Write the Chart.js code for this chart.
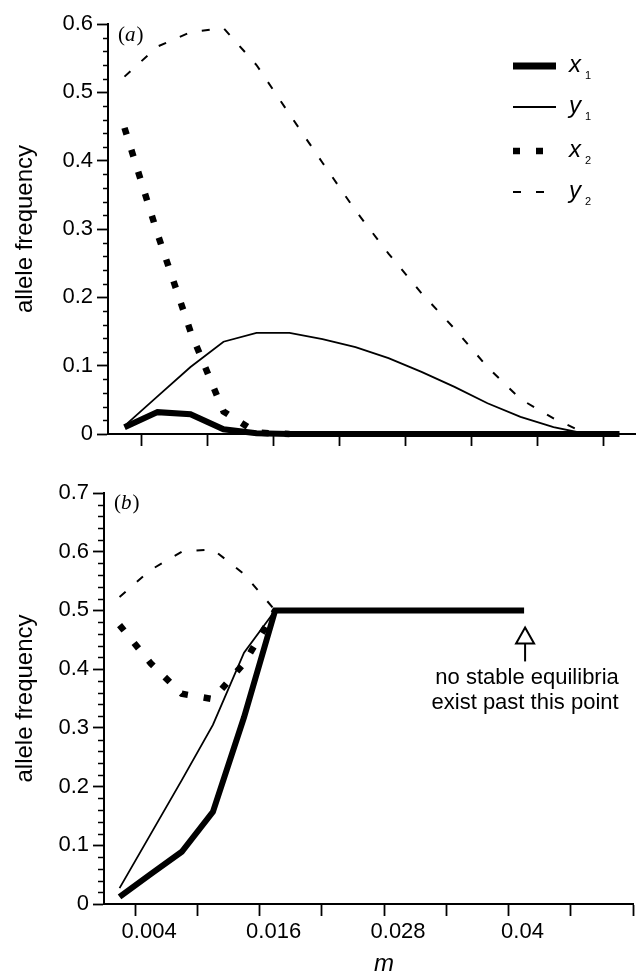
<!DOCTYPE html>
<html>
<head>
<meta charset="utf-8">
<script src="https://cdn.jsdelivr.net/npm/chart.js@4.4.1/dist/chart.umd.min.js"></script>
<style>
  body { margin: 0; background: #fff; width: 636px; height: 975px; overflow: hidden; }
  .panel { position: absolute; left: 0; width: 636px; }
  #wrapA { top: 0; height: 470px; }
  #wrapB { top: 460px; height: 515px; }
</style>
</head>
<body>
<div class="panel" id="wrapA"><canvas id="chartA"></canvas></div>
<div class="panel" id="wrapB"><canvas id="chartB"></canvas></div>
<script>
// panel (a)
const mA  = [0.0025, 0.0055, 0.0085, 0.0115, 0.0145, 0.0175, 0.0205, 0.0235, 0.0265, 0.0295, 0.0325, 0.0355, 0.0385, 0.0415, 0.0445, 0.0475];
const x1A = [0.010, 0.032, 0.029, 0.007, 0.001, 0, 0, 0, 0, 0, 0, 0, 0, 0, 0, 0];
const y1A = [0.012, 0.055, 0.098, 0.135, 0.148, 0.148, 0.139, 0.127, 0.111, 0.091, 0.069, 0.045, 0.025, 0.010, 0];
const x2A = [0.448, 0.293, 0.150, 0.033, 0.002, 0];
const y2A = [0.523, 0.567, 0.588, 0.594, 0.540, 0.468, 0.397, 0.327, 0.264, 0.206, 0.154, 0.098, 0.051, 0.023, 0];

// panel (b)
const mB  = [0.0025, 0.0055, 0.0085, 0.0115, 0.0145, 0.0175, 0.0205, 0.0235, 0.0265, 0.0295, 0.0325, 0.0355, 0.0385, 0.0415];
const x1B = [0.012, 0.051, 0.089, 0.157, 0.318, 0.5, 0.5, 0.5, 0.5, 0.5, 0.5, 0.5, 0.5, 0.5];
const y1B = [0.027, 0.119, 0.211, 0.305, 0.428, 0.5];
const x2B = [0.475, 0.410, 0.358, 0.349, 0.410, 0.5];
const y2B = [0.523, 0.569, 0.600, 0.604, 0.562, 0.5];

// ticks
const xTicksA  = [0.004, 0.010, 0.016, 0.022, 0.028, 0.034, 0.040, 0.046];
const xTicksB  = [0.004, 0.010, 0.016, 0.022, 0.028, 0.034, 0.040, 0.046, 0.052];
const xLabelsB = ["0.004", "", "0.016", "", "0.028", "", "0.04", "", ""];
const yTicksA  = [0, 0.1, 0.2, 0.3, 0.4, 0.5, 0.6];
const yLabelsA = ["0", "0.1", "0.2", "0.3", "0.4", "0.5", "0.6"];
const yTicksB  = [0, 0.1, 0.2, 0.3, 0.4, 0.5, 0.6, 0.7];
const yLabelsB = ["0", "0.1", "0.2", "0.3", "0.4", "0.5", "0.6", "0.7"];

const legendRows = [
  { ds: 0, letter: "x", sub: "1" },
  { ds: 1, letter: "y", sub: "1" },
  { ds: 2, letter: "x", sub: "2" },
  { ds: 3, letter: "y", sub: "2" },
];
const noteLines = ["no stable equilibria", "exist past this point"];

const SANS = "'Liberation Sans', Arial, Helvetica, sans-serif";
const SERIF = "'Liberation Serif', 'Times New Roman', serif";

const pts = (xs, ys) => ys.map((y, i) => ({ x: xs[i], y: y }));

const styles = [
  { borderWidth: 6, borderDash: [] },         // x1
  { borderWidth: 1.8, borderDash: [] },       // y1
  { borderWidth: 6.5, borderDash: [7, 16] },  // x2
  { borderWidth: 2, borderDash: [8, 15] },    // y2
];

function makeDatasets(m, series) {
  return series.map((ys, i) => ({
    data: pts(m, ys),
    showLine: true,
    borderColor: "#000",
    borderWidth: styles[i].borderWidth,
    borderDash: styles[i].borderDash,
    pointRadius: 0,
    tension: 0,
    clip: false,
  }));
}

const extras = {
  id: "extras",
  afterDraw(chart, args, opts) {
    const ctx = chart.ctx;
    const ys = chart.scales.y;
    const xs = chart.scales.x;
    ctx.save();
    ctx.strokeStyle = "#000";
    ctx.fillStyle = "#000";

    // minor y ticks every 0.02
    ctx.lineWidth = 1.5;
    const n = Math.round(ys.max / 0.02);
    for (let i = 1; i < n; i++) {
      if (i % 5 === 0) continue;
      const py = Math.round(ys.getPixelForValue(i * 0.02)) + 0.5;
      ctx.beginPath();
      ctx.moveTo(ys.right - opts.minorLen, py);
      ctx.lineTo(ys.right, py);
      ctx.stroke();
    }

    // panel tag like (a)
    ctx.textBaseline = "alphabetic";
    ctx.textAlign = "left";
    let tx = chart.chartArea.left + 10;
    const ty = chart.chartArea.top + opts.tagDy;
    ctx.font = "21px " + SERIF;
    ctx.fillText("(", tx, ty);
    tx += ctx.measureText("(").width;
    ctx.font = "italic 21px " + SERIF;
    ctx.fillText(opts.tag, tx, ty);
    tx += ctx.measureText(opts.tag).width + 1;
    ctx.font = "21px " + SERIF;
    ctx.fillText(")", tx, ty);

    if (opts.legend) {
      const rowsY = [66, 107, 151, 192];
      legendRows.forEach((row, i) => {
        const ds = chart.data.datasets[row.ds];
        const y = rowsY[i];
        ctx.save();
        ctx.lineWidth = row.ds === 0 ? 7 : ds.borderWidth;
        ctx.setLineDash(ds.borderDash);
        ctx.beginPath();
        ctx.moveTo(513, y);
        ctx.lineTo(556, y);
        ctx.stroke();
        ctx.restore();
        ctx.font = "italic 24px " + SANS;
        ctx.fillText(row.letter, 569, y + 6);
        ctx.font = "11px " + SANS;
        ctx.fillText(row.sub, 585, y + 13);
      });
    }

    if (opts.note) {
      const ax = xs.getPixelForValue(mB[mB.length - 1]) + 1;
      const tip = ys.getPixelForValue(x1B[x1B.length - 1]) + 17;
      ctx.lineWidth = 2;
      ctx.beginPath();
      ctx.moveTo(ax, tip);
      ctx.lineTo(ax + 9, tip + 16);
      ctx.lineTo(ax - 9, tip + 16);
      ctx.closePath();
      ctx.stroke();
      ctx.beginPath();
      ctx.moveTo(ax, tip + 16);
      ctx.lineTo(ax, tip + 34);
      ctx.stroke();
      ctx.font = "22px " + SANS;
      ctx.textAlign = "center";
      ctx.fillText(noteLines[0], ax + 2, tip + 57);
      ctx.fillText(noteLines[1], ax, tip + 82);
    }

    if (opts.xTitle) {
      ctx.font = "italic 24px " + SANS;
      ctx.textAlign = "center";
      ctx.fillText(opts.xTitle, 384, chart.chartArea.bottom + 67);
    }
    ctx.restore();
  },
};

function makeOptions(cfg) {
  return {
    responsive: true,
    maintainAspectRatio: false,
    animation: false,
    events: [],
    layout: { padding: { top: cfg.padTop, left: 0, right: 0, bottom: 0 } },
    plugins: {
      legend: { display: false },
      tooltip: { enabled: false },
      extras: cfg.extras,
    },
    scales: {
      x: {
        type: "linear",
        min: cfg.xMin,
        max: cfg.xMax,
        afterBuildTicks: (s) => { s.ticks = cfg.xTicks.map((v) => ({ value: v })); },
        afterFit: (s) => { s.height = cfg.xHeight; },
        ticks: {
          autoSkip: false,
          maxRotation: 0,
          color: "#000",
          font: { family: SANS, size: 22 },
          padding: 3,
          labelOffset: 14,
          callback: (v, i) => cfg.xLabels[i],
        },
        grid: { display: true, drawOnChartArea: false, drawTicks: true, tickLength: 12, tickWidth: 1.8, tickColor: "#000" },
        border: { display: true, color: "#000", width: 2 },
      },
      y: {
        type: "linear",
        min: 0,
        max: cfg.yMax,
        afterBuildTicks: (s) => { s.ticks = cfg.yTicks.map((v) => ({ value: v })); },
        afterFit: (s) => { s.width = cfg.yWidth; },
        ticks: {
          autoSkip: false,
          color: "#000",
          font: { family: SANS, size: 22 },
          padding: 4,
          callback: (v, i) => cfg.yLabels[i],
        },
        title: {
          display: true,
          text: "allele frequency",
          color: "#000",
          font: { family: SANS, size: 24 },
          padding: { top: 11, bottom: 0 },
        },
        grid: { display: true, drawOnChartArea: false, drawTicks: true, tickLength: 11, tickWidth: 1.8, tickColor: "#000" },
        border: { display: true, color: "#000", width: 2 },
      },
    },
  };
}

new Chart(document.getElementById("chartA"), {
  type: "scatter",
  data: { datasets: makeDatasets(mA, [x1A, y1A, x2A, y2A]) },
  options: makeOptions({
    padTop: 24, xMin: 0.001, xMax: 0.049, xTicks: xTicksA,
    xLabels: xTicksA.map(() => ""), xHeight: 36,
    yMax: 0.6, yTicks: yTicksA, yLabels: yLabelsA, yWidth: 108,
    extras: { minorLen: 5, tag: "a", tagDy: 17, legend: true },
  }),
  plugins: [extras],
});

new Chart(document.getElementById("chartB"), {
  type: "scatter",
  data: { datasets: makeDatasets(mB, [x1B, y1B, x2B, y2B]) },
  options: makeOptions({
    padTop: 33, xMin: 0.001, xMax: 0.052, xTicks: xTicksB,
    xLabels: xLabelsB, xHeight: 71,
    yMax: 0.7, yTicks: yTicksB, yLabels: yLabelsB, yWidth: 104,
    extras: { minorLen: 6, tag: "b", tagDy: 16, note: true, xTitle: "m" },
  }),
  plugins: [extras],
});
</script>
</body>
</html>
